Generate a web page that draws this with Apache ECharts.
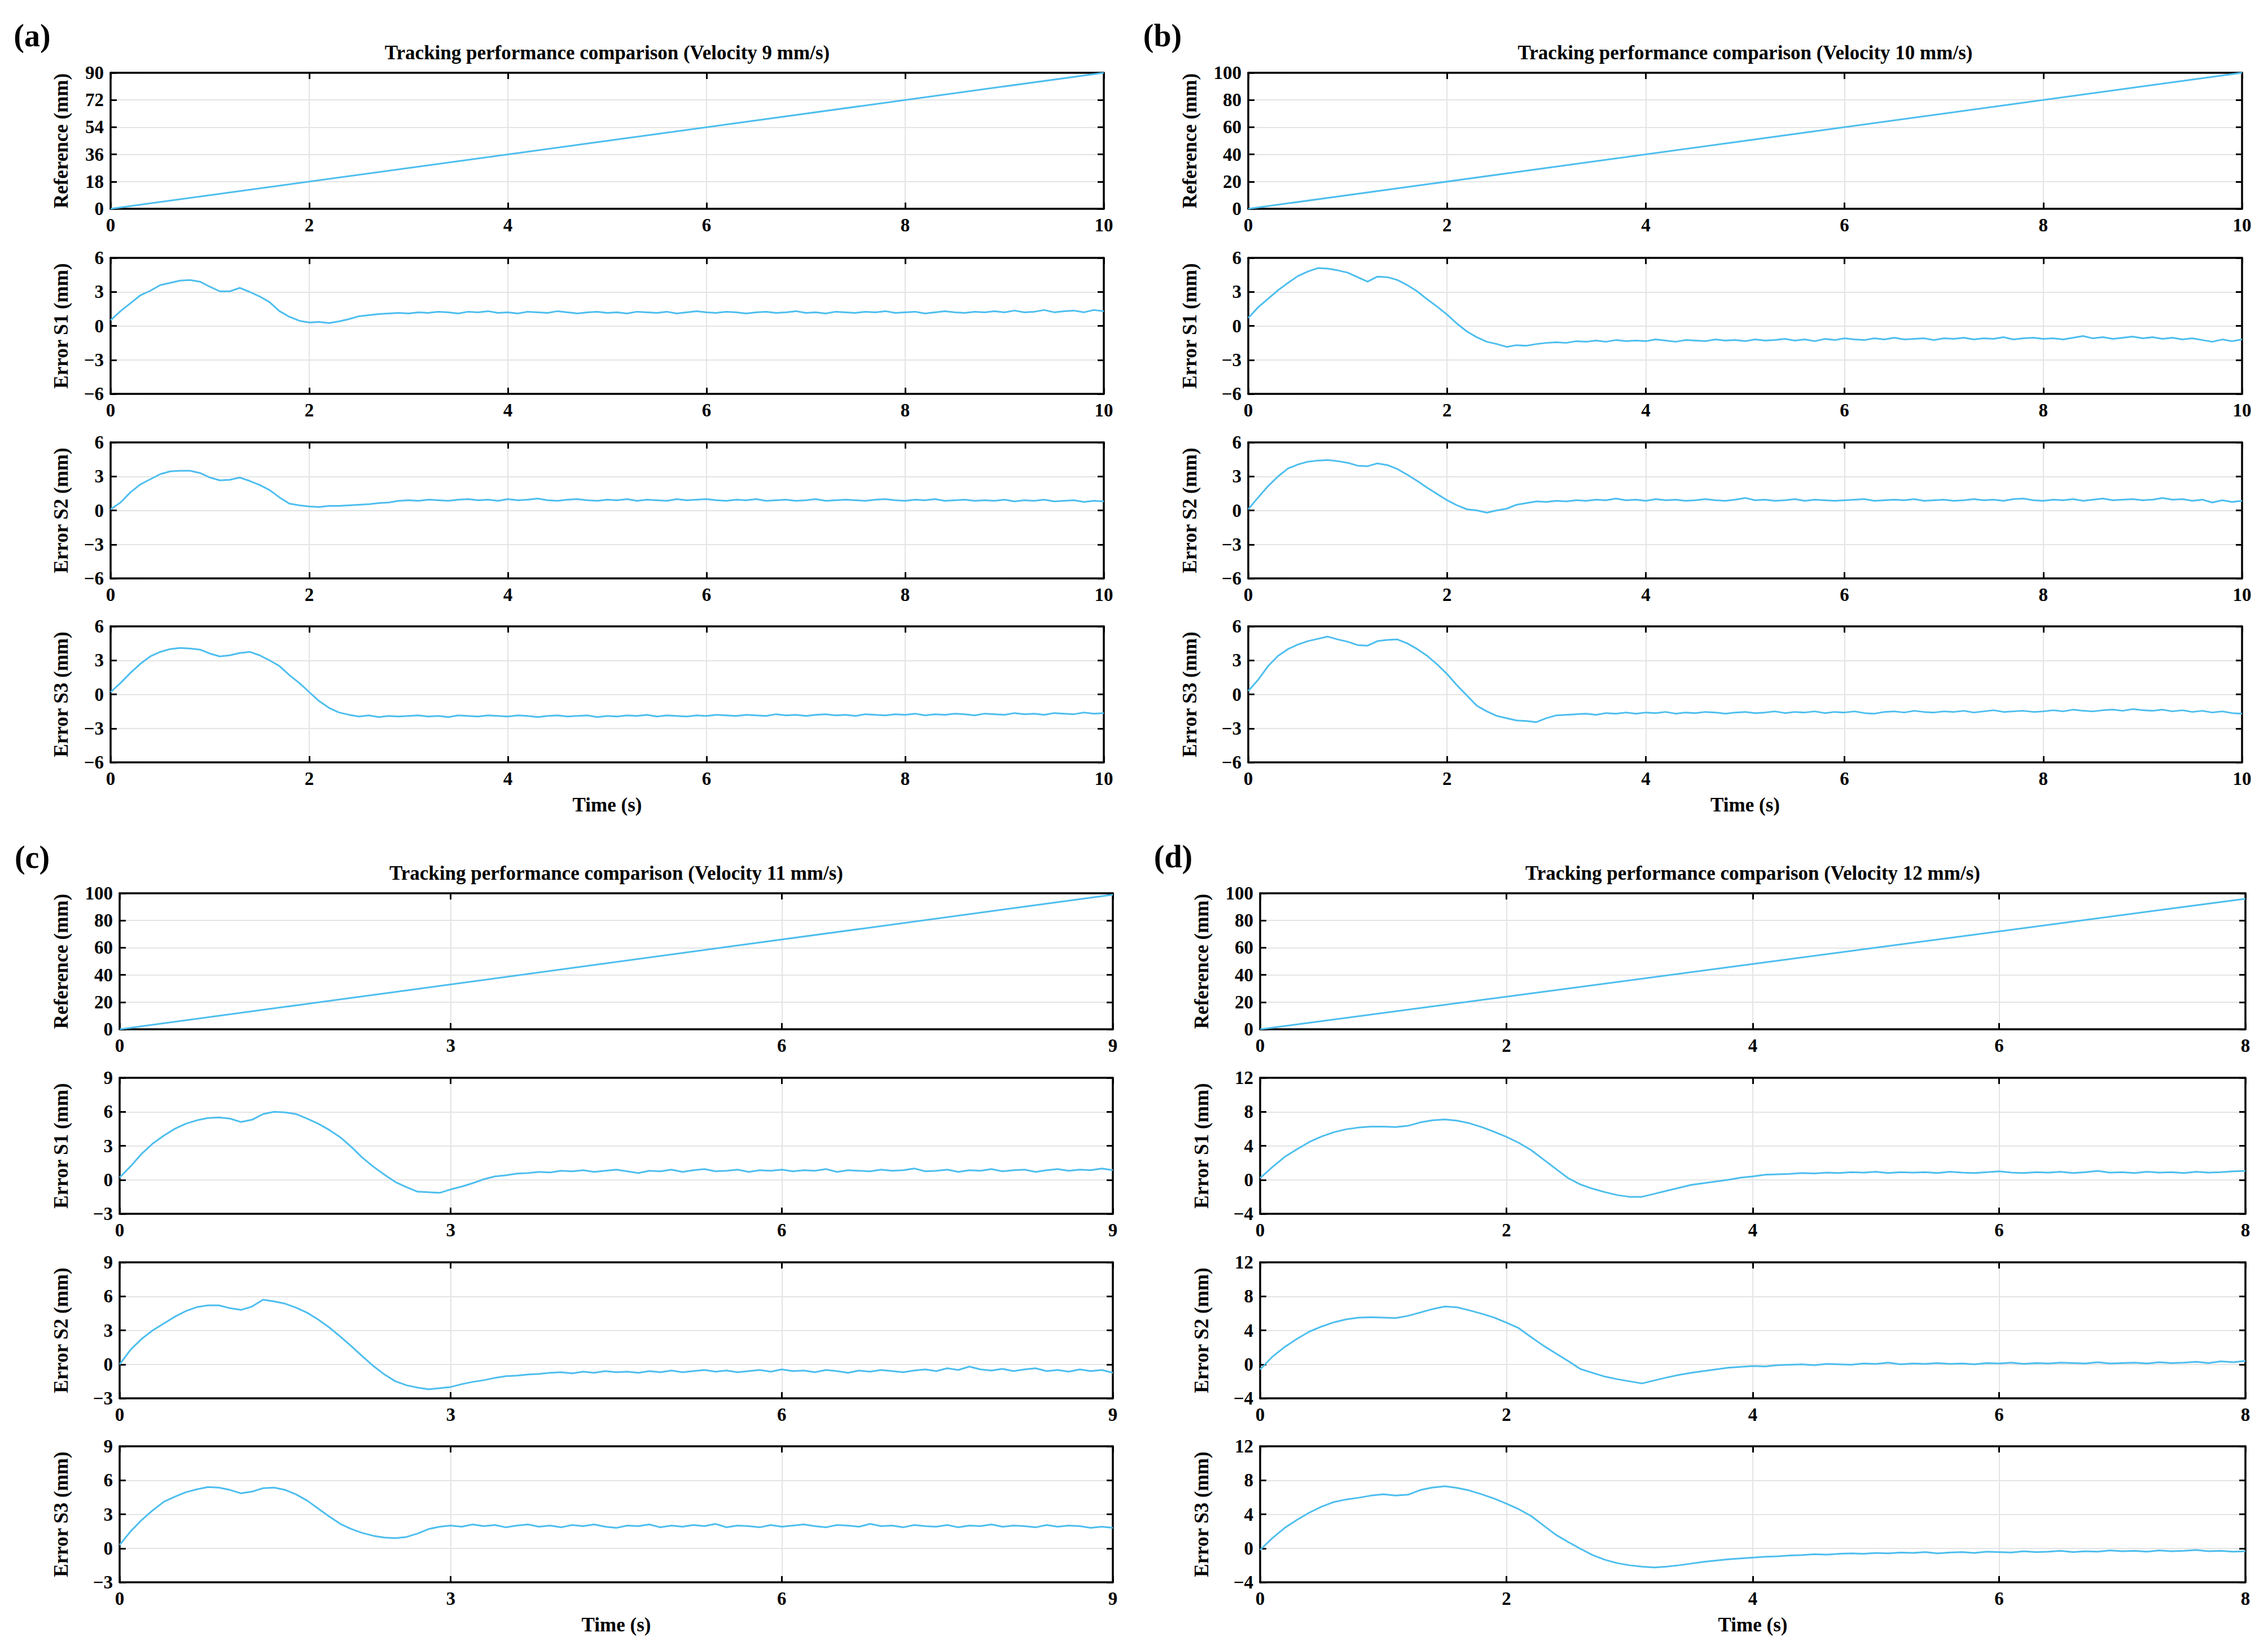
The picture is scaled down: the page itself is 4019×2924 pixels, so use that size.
<!DOCTYPE html>
<html><head><meta charset="utf-8">
<script src="https://cdn.jsdelivr.net/npm/echarts@6/dist/echarts.min.js"></script>
<style>html,body{margin:0;padding:0;background:#fff}#c{width:4019px;height:2924px}</style>
</head><body><div id="c"></div>
<script>
// ---------------- DATA ----------------
const timeStep = 0.1; // sampling step (s) of the error series below
const velocities = [9, 10, 11, 12];
const panelLetters = ['(a)', '(b)', '(c)', '(d)'];
const yNames = ['Reference (mm)', 'Error S1 (mm)', 'Error S2 (mm)', 'Error S3 (mm)'];
const xMax = [10, 10, 9, 8];
const xInterval = [2, 2, 3, 2];
const refAxis = [[0, 90, 18], [0, 100, 20], [0, 100, 20], [0, 100, 20]];
const errAxis = [[-6, 6, 3], [-6, 6, 3], [-3, 9, 3], [-4, 12, 4]];
const refEndValue = [90, 100, 99, 96];

const aS1 = [0.5,1.3,2.0,2.7,3.1,3.6,3.8,4.0,4.05,3.9,
3.45,3.05,3.05,3.35,3.0,2.6,2.1,1.3,0.8,0.45,
0.3,0.35,0.25,0.4,0.6,0.85,0.95,1.05,1.1,1.15,
1.1,1.2,1.15,1.25,1.2,1.1,1.25,1.2,1.3,1.15,
1.2,1.1,1.25,1.2,1.15,1.3,1.2,1.1,1.2,1.25,
1.15,1.2,1.1,1.25,1.2,1.15,1.25,1.1,1.2,1.3,
1.2,1.15,1.25,1.2,1.1,1.2,1.25,1.15,1.2,1.3,
1.15,1.2,1.1,1.25,1.2,1.15,1.25,1.2,1.3,1.15,
1.2,1.25,1.1,1.2,1.3,1.2,1.15,1.25,1.2,1.3,
1.2,1.35,1.2,1.25,1.4,1.2,1.3,1.35,1.2,1.4,1.3];
const aS2 = [0.1,0.7,1.6,2.3,2.75,3.2,3.45,3.5,3.5,3.3,
2.9,2.65,2.7,2.9,2.6,2.25,1.8,1.15,0.6,0.45,
0.35,0.3,0.4,0.4,0.45,0.5,0.55,0.65,0.7,0.85,
0.9,0.85,0.95,0.9,0.85,0.95,1.0,0.9,0.95,0.85,
1.0,0.9,0.95,1.05,0.9,0.85,0.95,1.0,0.9,0.85,
0.95,0.9,1.0,0.85,0.95,0.9,0.85,1.0,0.9,0.95,
1.0,0.9,0.85,0.95,0.9,1.0,0.85,0.9,0.95,0.85,
0.9,1.0,0.85,0.9,0.95,0.9,0.85,0.95,1.0,0.9,
0.85,0.95,0.9,1.0,0.85,0.9,0.95,0.85,0.9,0.85,
0.95,0.8,0.9,0.85,0.95,0.8,0.85,0.9,0.75,0.85,0.8];
const aS3 = [0.2,1.0,1.9,2.7,3.35,3.75,4.0,4.1,4.05,3.95,
3.6,3.35,3.45,3.65,3.75,3.45,3.0,2.5,1.7,1.0,
0.2,-0.6,-1.2,-1.6,-1.8,-1.95,-1.85,-2.0,-1.9,-1.95,
-1.9,-1.85,-1.95,-1.9,-2.0,-1.85,-1.9,-1.95,-1.85,-1.9,
-1.95,-1.85,-1.9,-2.0,-1.9,-1.85,-1.95,-1.9,-1.85,-2.0,
-1.9,-1.95,-1.85,-1.9,-1.8,-1.95,-1.85,-1.9,-1.95,-1.85,
-1.9,-1.8,-1.85,-1.9,-1.8,-1.85,-1.9,-1.75,-1.85,-1.8,
-1.9,-1.8,-1.75,-1.85,-1.8,-1.9,-1.75,-1.8,-1.85,-1.75,
-1.8,-1.7,-1.85,-1.75,-1.8,-1.7,-1.75,-1.85,-1.7,-1.75,
-1.8,-1.65,-1.75,-1.7,-1.8,-1.65,-1.7,-1.75,-1.6,-1.7,-1.65];

const bS1 = [0.7,1.65,2.4,3.15,3.8,4.4,4.8,5.1,5.05,4.9,
4.7,4.3,3.9,4.35,4.3,4.05,3.6,3.05,2.35,1.7,
1.0,0.2,-0.5,-1.0,-1.4,-1.6,-1.85,-1.7,-1.75,-1.6,
-1.5,-1.45,-1.5,-1.35,-1.4,-1.3,-1.4,-1.25,-1.35,-1.3,
-1.35,-1.2,-1.3,-1.4,-1.25,-1.3,-1.35,-1.2,-1.3,-1.25,
-1.35,-1.2,-1.3,-1.25,-1.15,-1.3,-1.2,-1.35,-1.15,-1.25,
-1.1,-1.2,-1.25,-1.1,-1.2,-1.05,-1.2,-1.15,-1.1,-1.25,
-1.1,-1.15,-1.05,-1.2,-1.1,-1.15,-1.0,-1.2,-1.1,-1.05,
-1.15,-1.1,-1.2,-1.05,-0.9,-1.1,-1.0,-1.15,-1.05,-0.95,
-1.1,-1.0,-1.15,-1.05,-1.2,-1.1,-1.25,-1.4,-1.2,-1.35,-1.2];
const bS2 = [0.1,1.15,2.15,3.0,3.7,4.05,4.3,4.4,4.45,4.35,
4.2,3.95,3.9,4.15,4.0,3.65,3.15,2.6,2.0,1.45,
0.9,0.45,0.1,0.0,-0.2,0.0,0.15,0.5,0.65,0.8,
0.75,0.85,0.8,0.9,0.85,0.95,0.9,1.05,0.9,0.95,
0.85,1.0,0.9,0.95,0.85,0.9,1.0,0.9,0.85,0.95,
1.1,0.9,0.95,0.85,0.9,1.0,0.85,0.95,0.9,0.85,
0.9,0.95,1.0,0.85,0.9,0.95,0.9,1.0,0.85,0.9,
0.95,0.85,0.9,1.0,0.9,0.95,0.85,1.0,1.05,0.9,
0.85,0.95,0.9,1.0,0.85,0.95,1.05,0.9,0.95,1.0,
0.9,0.95,1.1,0.95,1.0,0.85,0.95,0.7,0.9,0.75,0.85];
const bS3 = [0.3,1.3,2.5,3.4,4.0,4.4,4.7,4.9,5.1,4.85,
4.65,4.35,4.3,4.7,4.8,4.85,4.5,4.0,3.4,2.65,
1.8,0.8,-0.1,-1.0,-1.5,-1.9,-2.1,-2.3,-2.35,-2.45,
-2.1,-1.85,-1.8,-1.75,-1.7,-1.8,-1.65,-1.7,-1.6,-1.7,
-1.6,-1.65,-1.55,-1.7,-1.6,-1.65,-1.55,-1.6,-1.7,-1.6,
-1.55,-1.65,-1.6,-1.5,-1.65,-1.55,-1.6,-1.5,-1.65,-1.55,
-1.6,-1.5,-1.65,-1.7,-1.55,-1.5,-1.6,-1.45,-1.55,-1.6,
-1.5,-1.55,-1.45,-1.6,-1.5,-1.4,-1.55,-1.5,-1.45,-1.55,
-1.5,-1.4,-1.5,-1.35,-1.45,-1.5,-1.4,-1.35,-1.45,-1.3,
-1.4,-1.45,-1.35,-1.5,-1.4,-1.55,-1.45,-1.6,-1.5,-1.65,-1.7];

const cS1 = [0.2,1.2,2.3,3.2,3.9,4.5,4.95,5.25,5.45,5.5,
5.4,5.1,5.3,5.8,6.0,5.95,5.8,5.4,4.95,4.4,
3.75,2.9,1.95,1.15,0.45,-0.2,-0.65,-1.05,-1.1,-1.15,
-0.85,-0.6,-0.3,0.05,0.3,0.4,0.55,0.6,0.7,0.65,
0.8,0.75,0.85,0.7,0.8,0.9,0.75,0.6,0.8,0.75,
0.9,0.7,0.85,0.95,0.75,0.8,0.9,0.7,0.85,0.8,
0.9,0.75,0.85,0.8,0.95,0.7,0.85,0.8,0.75,0.9,
0.8,0.85,1.0,0.75,0.8,0.9,0.7,0.85,0.8,0.95,
0.75,0.85,0.9,0.7,0.85,0.95,0.8,0.9,0.85,1.0,0.85];
const cS2 = [0.0,1.3,2.25,3.0,3.6,4.2,4.7,5.05,5.2,5.2,
4.95,4.8,5.1,5.7,5.55,5.35,5.0,4.55,3.95,3.25,
2.45,1.6,0.7,-0.15,-0.9,-1.5,-1.85,-2.05,-2.2,-2.1,
-2.0,-1.75,-1.55,-1.4,-1.2,-1.05,-1.0,-0.9,-0.85,-0.75,
-0.7,-0.8,-0.65,-0.75,-0.6,-0.7,-0.65,-0.75,-0.6,-0.7,
-0.55,-0.7,-0.6,-0.5,-0.65,-0.55,-0.7,-0.6,-0.5,-0.65,
-0.45,-0.6,-0.55,-0.7,-0.5,-0.6,-0.75,-0.55,-0.65,-0.5,
-0.6,-0.7,-0.55,-0.45,-0.6,-0.35,-0.5,-0.2,-0.45,-0.55,
-0.4,-0.6,-0.45,-0.35,-0.6,-0.5,-0.65,-0.45,-0.6,-0.5,-0.75];
const cS3 = [0.3,1.5,2.5,3.35,4.1,4.55,4.95,5.2,5.4,5.35,
5.15,4.85,5.0,5.3,5.35,5.15,4.75,4.2,3.5,2.8,
2.15,1.7,1.35,1.1,0.95,0.9,1.0,1.3,1.7,1.9,
2.0,1.9,2.1,1.95,2.05,1.85,2.0,2.1,1.9,2.0,
1.85,2.05,1.95,2.1,1.9,1.8,2.0,1.95,2.1,1.85,
2.0,1.9,2.05,1.95,2.15,1.85,2.0,1.95,1.85,2.05,
1.9,2.0,2.1,1.95,1.85,2.05,2.0,1.9,2.15,1.95,
2.0,1.85,2.05,1.95,1.9,2.05,1.85,2.0,1.95,2.1,
1.9,2.0,1.95,1.85,2.05,1.9,2.0,1.95,1.8,1.9,1.8];

const dS1 = [0.2,1.5,2.7,3.6,4.45,5.1,5.6,5.95,6.15,6.25,
6.25,6.2,6.35,6.75,7.0,7.1,6.95,6.65,6.2,5.65,
5.05,4.35,3.5,2.4,1.3,0.2,-0.55,-1.05,-1.45,-1.8,
-2.0,-2.0,-1.65,-1.3,-0.95,-0.6,-0.4,-0.2,0.0,0.25,
0.4,0.6,0.65,0.7,0.8,0.75,0.85,0.8,0.9,0.85,
0.95,0.8,0.9,0.85,0.9,0.8,0.95,0.85,0.8,0.9,
1.0,0.85,0.8,0.9,0.85,0.95,0.8,0.9,1.05,0.85,
0.9,0.8,0.95,0.85,0.9,0.8,0.95,0.85,0.9,1.0,1.05];
const dS2 = [-0.6,0.9,2.05,3.0,3.85,4.45,4.95,5.3,5.5,5.55,
5.5,5.45,5.7,6.1,6.5,6.8,6.7,6.35,5.95,5.5,
4.9,4.25,3.2,2.2,1.3,0.4,-0.55,-1.0,-1.45,-1.75,
-2.0,-2.25,-1.9,-1.55,-1.25,-1.0,-0.8,-0.6,-0.4,-0.3,
-0.2,-0.25,-0.1,-0.05,0.0,-0.1,0.05,0.0,-0.05,0.1,
0.05,0.2,0.0,0.1,0.05,0.15,0.05,0.1,0.0,0.15,
0.1,0.2,0.05,0.15,0.1,0.2,0.15,0.1,0.25,0.1,
0.15,0.2,0.1,0.25,0.15,0.2,0.3,0.15,0.35,0.25,0.4];
const dS3 = [-0.2,1.2,2.4,3.35,4.2,4.9,5.45,5.75,5.95,6.2,
6.35,6.2,6.3,6.85,7.15,7.3,7.1,6.8,6.35,5.85,
5.25,4.6,3.8,2.7,1.6,0.75,-0.05,-0.8,-1.35,-1.75,
-2.0,-2.15,-2.25,-2.15,-2.0,-1.8,-1.6,-1.45,-1.3,-1.2,
-1.1,-1.0,-0.95,-0.85,-0.8,-0.7,-0.75,-0.65,-0.6,-0.65,
-0.55,-0.6,-0.5,-0.55,-0.45,-0.6,-0.5,-0.45,-0.55,-0.4,
-0.45,-0.5,-0.35,-0.45,-0.4,-0.3,-0.45,-0.35,-0.4,-0.25,
-0.35,-0.3,-0.4,-0.25,-0.35,-0.3,-0.2,-0.35,-0.3,-0.4,-0.35];

const errors = [[aS1, aS2, aS3], [bS1, bS2, bS3], [cS1, cS2, cS3], [dS1, dS2, dS3]];

// ---------------- LAYOUT / STYLE ----------------
const FONT = '"Liberation Serif", "Times New Roman", serif';
const LINE_COLOR = '#4DBEEE';
const panelLeft = [196, 2212, 212, 2233];
const panelWidth = [1760, 1761, 1760, 1746];
const panelTops = [[129, 457, 784, 1110], [129, 457, 784, 1110], [1583, 1910, 2237, 2563], [1583, 1910, 2237, 2563]];
const plotH = 241;
const yNameGap = [70, 86, 86, 86];
const letterPos = [[57, 63], [2060, 63], [57, 1519], [2079, 1518]];

const fmt = v => (v < 0 ? '\u2212' + Math.abs(v) : String(v));
const tickLabel = {fontFamily: FONT, fontWeight: 'bold', fontSize: 33, color: '#000'};
const axisLineStyle = {show: true, onZero: false, lineStyle: {color: '#000', width: 3.5}};
const tickStyle = {show: true, inside: true, length: 11, lineStyle: {color: '#000', width: 3}};
const gridLine = {show: true, lineStyle: {color: '#e4e4e4', width: 2}};

const grids = [], xAxes = [], yAxes = [], series = [], graphics = [];

for (let p = 0; p < 4; p++) {
  const L = panelLeft[p], W = panelWidth[p];
  graphics.push({type: 'text', x: L + W / 2, y: panelTops[p][0] - 36, silent: true,
    style: {text: 'Tracking performance comparison (Velocity ' + velocities[p] + ' mm/s)',
      fontFamily: FONT, fontWeight: 'bold', fontSize: 35, fill: '#000', align: 'center', verticalAlign: 'middle'}});
  graphics.push({type: 'text', x: letterPos[p][0], y: letterPos[p][1], silent: true,
    style: {text: panelLetters[p], fontFamily: FONT, fontWeight: 'bold', fontSize: 56, fill: '#000', align: 'center', verticalAlign: 'middle'}});
  for (let r = 0; r < 4; r++) {
    const g = p * 4 + r;
    grids.push({left: L, top: panelTops[p][r], width: W, height: plotH, show: false});
    const isLast = r === 3;
    xAxes.push({type: 'value', gridIndex: g, position: 'bottom', min: 0, max: xMax[p], interval: xInterval[p],
      axisLine: axisLineStyle, axisTick: tickStyle, splitLine: gridLine,
      axisLabel: Object.assign({margin: 12, formatter: fmt, showMinLabel: true, showMaxLabel: true}, tickLabel),
      name: isLast ? 'Time (s)' : '', nameLocation: 'middle', nameGap: 58,
      nameTextStyle: {fontFamily: FONT, fontWeight: 'bold', fontSize: 35, color: '#000'}});
    xAxes.push({type: 'value', gridIndex: g, position: 'top', min: 0, max: xMax[p], interval: xInterval[p],
      axisLine: axisLineStyle, axisTick: tickStyle, splitLine: {show: false}, axisLabel: {show: false}});
    const ax = r === 0 ? refAxis[p] : errAxis[p];
    yAxes.push({type: 'value', gridIndex: g, position: 'left', min: ax[0], max: ax[1], interval: ax[2],
      axisLine: axisLineStyle, axisTick: tickStyle, splitLine: gridLine,
      axisLabel: Object.assign({margin: 12, formatter: fmt, showMinLabel: true, showMaxLabel: true}, tickLabel),
      name: yNames[r], nameLocation: 'middle', nameGap: yNameGap[p], nameRotate: 90,
      nameTextStyle: {fontFamily: FONT, fontWeight: 'bold', fontSize: 35, color: '#000'}});
    yAxes.push({type: 'value', gridIndex: g, position: 'right', min: ax[0], max: ax[1], interval: ax[2],
      axisLine: axisLineStyle, axisTick: tickStyle, splitLine: {show: false}, axisLabel: {show: false}});
    let data;
    if (r === 0) {
      data = [[0, 0], [xMax[p], refEndValue[p]]];
    } else {
      data = errors[p][r - 1].map((v, i) => [Math.round(i * timeStep * 100) / 100, v]);
    }
    series.push({type: 'line', xAxisIndex: 2 * g, yAxisIndex: 2 * g, data: data, showSymbol: false,
      symbol: 'none', silent: true, clip: true, z: 3,
      lineStyle: {color: LINE_COLOR, width: 3}});
  }
}

const chart = echarts.init(document.getElementById('c'), null, {renderer: 'svg'});
chart.setOption({
  animation: false,
  backgroundColor: '#fff',
  grid: grids, xAxis: xAxes, yAxis: yAxes, series: series, graphic: graphics
});
</script>
</body></html>
